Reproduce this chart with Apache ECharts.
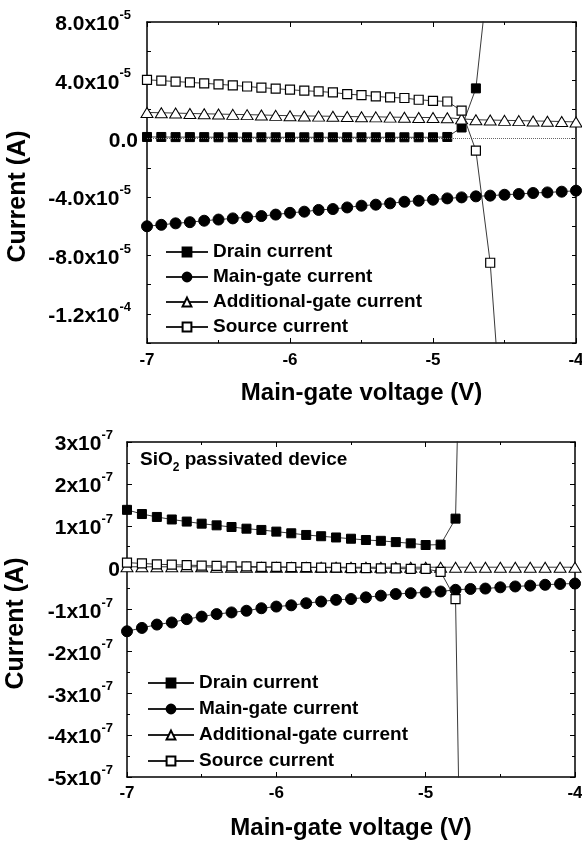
<!DOCTYPE html>
<html>
<head>
<meta charset="utf-8">
<script src="https://cdn.jsdelivr.net/npm/echarts@6/dist/echarts.min.js"></script>
<style>
html, body { margin: 0; padding: 0; background: #fff; }
#chart { width: 582px; height: 847px; }
</style>
</head>
<body>
<div id="chart"></div>
<script>
// main-gate voltage (V)
const voltage = [-7.0, -6.9, -6.8, -6.7, -6.6, -6.5, -6.4, -6.3, -6.2, -6.1, -6.0,
  -5.9, -5.8, -5.7, -5.6, -5.5, -5.4, -5.3, -5.2, -5.1, -5.0,
  -4.9, -4.8, -4.7, -4.6, -4.5, -4.4, -4.3, -4.2, -4.1, -4.0];

const seriesNames = ['Drain current', 'Main-gate current', 'Additional-gate current', 'Source current'];

// upper panel, current in units of 1e-5 A
const topDrain = [0.12, 0.12, 0.11, 0.11, 0.11, 0.10, 0.10, 0.10, 0.10, 0.10, 0.10,
  0.10, 0.10, 0.10, 0.10, 0.10, 0.10, 0.10, 0.10, 0.10, 0.10,
  0.12, 0.77, 3.45, 12.5];
const topMainGate = [-6.0, -5.9, -5.8, -5.72, -5.62, -5.54, -5.46, -5.38, -5.3, -5.2, -5.08,
  -5.0, -4.88, -4.82, -4.71, -4.59, -4.52, -4.43, -4.32, -4.25, -4.18,
  -4.09, -4.02, -3.95, -3.9, -3.84, -3.79, -3.72, -3.68, -3.63, -3.56];
const topAddGate = [1.80, 1.78, 1.76, 1.73, 1.71, 1.69, 1.67, 1.65, 1.63, 1.60, 1.58,
  1.56, 1.55, 1.54, 1.52, 1.51, 1.50, 1.48, 1.47, 1.46, 1.45,
  1.44, 1.36, 1.30, 1.28, 1.26, 1.24, 1.22, 1.20, 1.18, 1.15];
const topSource = [4.04, 3.98, 3.92, 3.86, 3.80, 3.73, 3.66, 3.58, 3.50, 3.43, 3.36,
  3.29, 3.24, 3.17, 3.06, 2.99, 2.90, 2.83, 2.79, 2.67, 2.60,
  2.55, 1.92, -0.82, -8.5, -22];

// lower panel (SiO2 passivated), current in units of 1e-7 A
const botDrain = [1.38, 1.28, 1.21, 1.15, 1.10, 1.05, 1.01, 0.97, 0.93, 0.90, 0.86,
  0.82, 0.78, 0.75, 0.72, 0.69, 0.66, 0.64, 0.61, 0.58, 0.54,
  0.55, 1.17, 17];
const botMainGate = [-1.52, -1.44, -1.36, -1.31, -1.23, -1.17, -1.11, -1.07, -1.03, -0.97, -0.93,
  -0.90, -0.85, -0.81, -0.77, -0.75, -0.71, -0.67, -0.63, -0.61, -0.59,
  -0.57, -0.53, -0.51, -0.50, -0.47, -0.45, -0.43, -0.41, -0.39, -0.38];
const botAddGate = [0.02, 0.02, 0.02, 0.02, 0.02, 0.02, 0.01, 0.01, 0.01, 0.01, 0.01,
  0.01, 0.01, 0.01, 0.01, 0.01, 0.01, 0.01, 0.01, 0.01, 0.01,
  0.01, 0.01, 0.01, 0.01, 0.01, 0.01, 0.01, 0.01, 0.01, 0.01];
const botSource = [0.12, 0.10, 0.08, 0.07, 0.06, 0.05, 0.04, 0.03, 0.03, 0.02, 0.02,
  0.01, 0.01, 0.00, 0.00, -0.01, -0.01, -0.02, -0.02, -0.03, -0.03,
  -0.10, -0.75, -22];

// tick labels
const topTickVals = [8, 4, 0, -4, -8, -12];
const topTickMant = ['8.0x10', '4.0x10', '0.0', '-4.0x10', '-8.0x10', '-1.2x10'];
const topTickExp = ['-5', '-5', '', '-5', '-5', '-4'];
const botTickVals = [3, 2, 1, 0, -1, -2, -3, -4, -5];
const botTickMant = ['3x10', '2x10', '1x10', '0', '-1x10', '-2x10', '-3x10', '-4x10', '-5x10'];
const botTickExp = ['-7', '-7', '-7', '', '-7', '-7', '-7', '-7', '-7'];

const FONT = '"Liberation Sans", Arial, Helvetica, sans-serif';

function pairs(vals) {
  return vals.map((v, i) => [voltage[i], v]);
}

function tickFormatter(vals, mant, exp) {
  return function (v) {
    const i = vals.findIndex(t => Math.abs(t - v) < 1e-6);
    if (i < 0) return '';
    return exp[i] ? '{m|' + mant[i] + '}{e|' + exp[i] + '}' : '{m|' + mant[i] + '}';
  };
}

const labelRich = {
  m: { fontSize: 21, fontWeight: 'bold', fontFamily: FONT, color: '#000', lineHeight: 26, verticalAlign: 'bottom' },
  e: { fontSize: 13, fontWeight: 'bold', fontFamily: FONT, color: '#000', lineHeight: 14, verticalAlign: 'top', padding: [0, 7, 0, 0] }
};

const axisLine = { show: true, onZero: false, lineStyle: { color: '#000', width: 1.5 } };
const tickStyle = { color: '#000', width: 1 };

// marker styles
const styles = [
  { symbol: 'rect', symbolSize: 9, itemStyle: { color: '#000', borderColor: '#000', borderWidth: 1 } },
  { symbol: 'circle', symbolSize: 11, itemStyle: { color: '#000', borderColor: '#000', borderWidth: 1 } },
  { symbol: 'triangle', symbolSize: [12, 10], itemStyle: { color: '#fff', borderColor: '#000', borderWidth: 1 } },
  { symbol: 'rect', symbolSize: 9, itemStyle: { color: '#fff', borderColor: '#000', borderWidth: 1.2 } }
];

function makeSeries(data, idx, axisIdx) {
  return {
    type: 'line',
    name: seriesNames[idx],
    xAxisIndex: axisIdx,
    yAxisIndex: axisIdx,
    data: pairs(data),
    symbol: styles[idx].symbol,
    symbolSize: styles[idx].symbolSize,
    showAllSymbol: true,
    itemStyle: styles[idx].itemStyle,
    lineStyle: { color: '#222', width: 0.9 },
    emphasis: { disabled: true },
    animation: false,
    clip: true,
    z: 2 + idx
  };
}

function xAxes(gridIndex, margin) {
  return [
    {
      type: 'value', gridIndex: gridIndex, position: 'bottom',
      min: -7, max: -4, interval: 1,
      name: 'Main-gate voltage (V)', nameLocation: 'middle', nameGap: gridIndex === 0 ? 38 : 39,
      nameTextStyle: { fontSize: 24, fontWeight: 'bold', fontFamily: FONT, color: '#000' },
      axisLine: axisLine,
      axisTick: { show: true, inside: true, length: 5, lineStyle: tickStyle },
      minorTick: { show: true, splitNumber: 2, length: 3, lineStyle: tickStyle },
      splitLine: { show: false },
      axisLabel: { fontSize: 17, fontWeight: 'bold', fontFamily: FONT, color: '#000', margin: margin,
        formatter: v => String(v) }
    },
    {
      type: 'value', gridIndex: gridIndex, position: 'top',
      min: -7, max: -4, interval: 1,
      axisLine: axisLine,
      axisTick: { show: true, inside: true, length: 5, lineStyle: tickStyle },
      minorTick: { show: true, splitNumber: 2, length: 3, lineStyle: tickStyle },
      splitLine: { show: false },
      axisLabel: { show: false }
    }
  ];
}

const option = {
  backgroundColor: '#fff',
  animation: false,
  grid: [
    { left: 147, top: 22, right: 6, height: 321, containLabel: false, outerBoundsMode: 'none' },
    { left: 127, top: 442, right: 7, height: 335, containLabel: false, outerBoundsMode: 'none' }
  ],
  xAxis: [].concat(xAxes(0, 9), xAxes(1, 8)),
  yAxis: [
    {
      type: 'value', gridIndex: 0, position: 'left',
      min: -14, max: 8, interval: 2,
      name: 'Current (A)', nameLocation: 'middle', nameGap: 116,
      nameTextStyle: { fontSize: 25, fontWeight: 'bold', fontFamily: FONT, color: '#000', padding: [0, 28, 0, 0] },
      axisLine: axisLine,
      axisTick: { show: true, inside: true, length: 4, lineStyle: tickStyle },
      splitLine: { show: false },
      axisLabel: { margin: 9, formatter: tickFormatter(topTickVals, topTickMant, topTickExp), rich: labelRich }
    },
    {
      type: 'value', gridIndex: 0, position: 'right',
      min: -14, max: 8, interval: 2,
      axisLine: axisLine,
      axisTick: { show: true, inside: true, length: 4, lineStyle: tickStyle },
      splitLine: { show: false },
      axisLabel: { show: false }
    },
    {
      type: 'value', gridIndex: 1, position: 'left',
      min: -5, max: 3, interval: 1,
      name: 'Current (A)', nameLocation: 'middle', nameGap: 98,
      nameTextStyle: { fontSize: 25, fontWeight: 'bold', fontFamily: FONT, color: '#000', padding: [0, 28, 0, 0] },
      axisLine: axisLine,
      axisTick: { show: true, inside: true, length: 5, lineStyle: tickStyle },
      minorTick: { show: true, splitNumber: 2, length: 3, lineStyle: tickStyle },
      splitLine: { show: false },
      axisLabel: { margin: 7, formatter: tickFormatter(botTickVals, botTickMant, botTickExp), rich: labelRich }
    },
    {
      type: 'value', gridIndex: 1, position: 'right',
      min: -5, max: 3, interval: 1,
      axisLine: axisLine,
      axisTick: { show: true, inside: true, length: 5, lineStyle: tickStyle },
      minorTick: { show: true, splitNumber: 2, length: 3, lineStyle: tickStyle },
      splitLine: { show: false },
      axisLabel: { show: false }
    }
  ],
  legend: [
    {
      data: seriesNames, orient: 'vertical', left: 160, top: 237,
      itemWidth: 42, itemHeight: 11, itemGap: 5, selectedMode: false,
      textStyle: { fontSize: 19, fontWeight: 'bold', fontFamily: FONT, color: '#000', lineHeight: 20 }
    },
    {
      data: seriesNames, orient: 'vertical', left: 142, top: 668,
      itemWidth: 46, itemHeight: 11, itemGap: 6, selectedMode: false,
      textStyle: { fontSize: 19, fontWeight: 'bold', fontFamily: FONT, color: '#000', lineHeight: 20 }
    }
  ],
  graphic: [
    {
      type: 'text', left: 140, top: 450,
      style: {
        text: '{a|SiO}{s|2}{a| passivated device}',
        rich: {
          a: { fontSize: 19, fontWeight: 'bold', fontFamily: FONT, fill: '#000', lineHeight: 24, verticalAlign: 'top' },
          s: { fontSize: 12, fontWeight: 'bold', fontFamily: FONT, fill: '#000', lineHeight: 14, verticalAlign: 'bottom' }
        }
      }
    }
  ],
  series: [
    Object.assign(makeSeries(topDrain, 0, 0), {
      markLine: {
        silent: true, symbol: ['none', 'none'], label: { show: false },
        lineStyle: { type: 'dotted', color: '#666', width: 1 },
        data: [{ yAxis: 0 }]
      }
    }),
    makeSeries(topMainGate, 1, 0),
    makeSeries(topAddGate, 2, 0),
    makeSeries(topSource, 3, 0),
    makeSeries(botDrain, 0, 2),
    makeSeries(botMainGate, 1, 2),
    makeSeries(botAddGate, 2, 2),
    makeSeries(botSource, 3, 2)
  ]
};

const myChart = echarts.init(document.getElementById('chart'));
myChart.setOption(option);
</script>
</body>
</html>
